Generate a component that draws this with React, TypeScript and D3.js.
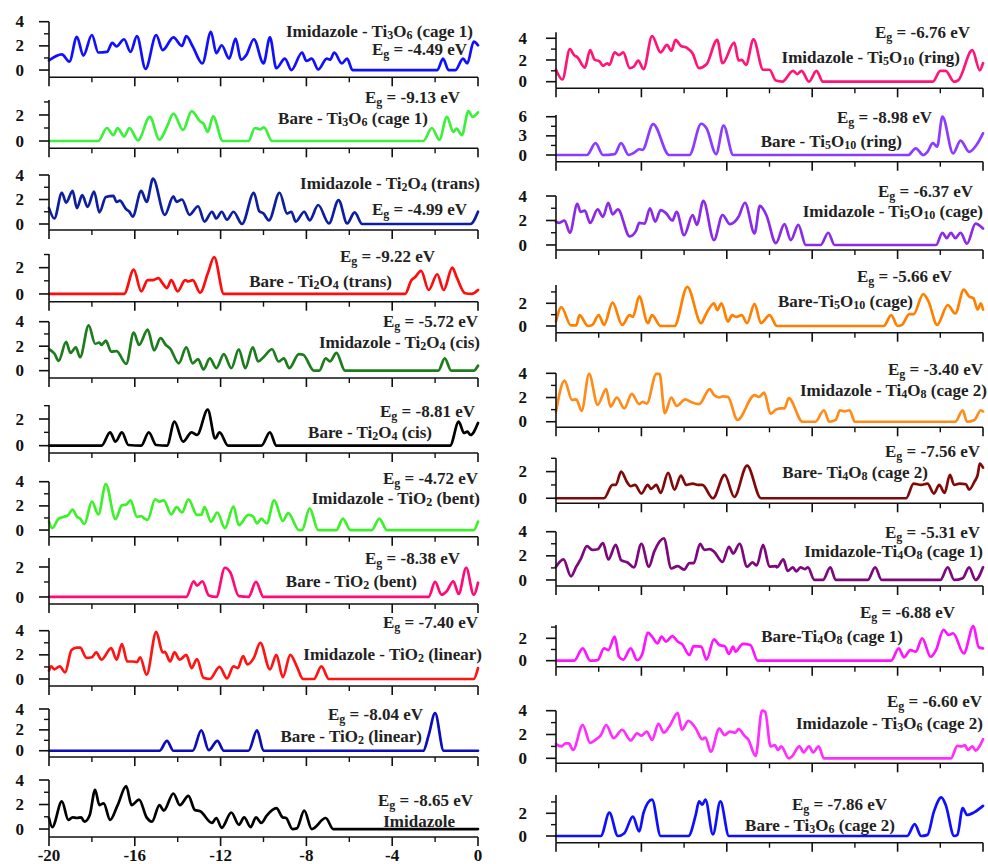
import React from "react";
import * as d3 from "d3";

type Pt = [number, number];

// energy axis (eV), shared by every panel
const energyTicks = [-20, -16, -12, -8, -4, 0];
const energyMinor = [-18, -14, -10, -6, -2];

// ---- left column: total DOS curves [energy, DOS] ----
const imTi3O6c1: Pt[] = [[-20,0.8],[-19.4,1.3],[-19.05,0.7],[-18.7,2.75],[-18.4,1.2],[-18.0,2.9],[-17.7,1.45],[-17.3,1.5],[-17.05,2.25],[-16.85,1.95],[-16.5,2.55],[-16.2,1.5],[-15.9,2.8],[-15.5,0.1],[-15.0,2.9],[-14.7,1.65],[-14.2,2.7],[-13.8,2.0],[-13.6,2.8],[-13.3,1.95],[-12.85,0.55],[-12.45,3.15],[-12.2,1.4],[-11.95,2.05],[-11.6,0.95],[-11.3,2.6],[-11.05,0.85],[-10.8,1.25],[-10.45,2.55],[-10.0,0.55],[-9.7,2.7],[-9.4,0.15],[-9.0,0.95],[-8.7,0],[-8.2,1.45],[-8.0,0.75],[-7.75,0.95],[-7.45,0.05],[-7.05,0.95],[-6.9,0.85],[-6.7,1.45],[-6.35,0.55],[-6.1,0.95],[-5.85,0],[-1.9,0],[-1.63,0.95],[-1.37,0],[-1.05,0],[-0.7,0.95],[-0.5,0.55],[-0.2,2.35],[0,2.05]];
const bareTi3O6c1: Pt[] = [[-20,0],[-17.7,0],[-17.3,1.0],[-17.0,0.45],[-16.8,1.0],[-16.5,0.35],[-16.25,1.0],[-15.85,0.05],[-15.3,1.85],[-14.85,0.1],[-14.5,1.1],[-14.2,2.1],[-13.75,0.85],[-13.35,2.3],[-12.95,1.5],[-12.8,1.35],[-12.6,0.7],[-12.35,1.9],[-11.9,0],[-10.7,0],[-10.4,1.0],[-10.15,0.9],[-9.98,1.05],[-9.6,0],[-2.55,0],[-2.15,1.0],[-1.8,0.1],[-1.45,1.85],[-1.15,0.7],[-1.0,0.95],[-0.75,0.45],[-0.45,2.3],[-0.25,1.85],[0,2.2]];
const imTi2O4trans: Pt[] = [[-20,1.3],[-19.75,0.45],[-19.4,2.55],[-19.2,1.75],[-18.9,2.7],[-18.7,1.3],[-18.45,2.35],[-18.2,1.4],[-17.9,2.65],[-17.65,0.95],[-17.35,2.2],[-17.0,2.3],[-16.85,1.8],[-16.7,1.9],[-16.4,1.2],[-16.25,1.0],[-16.1,0.6],[-15.7,2.7],[-15.45,1.8],[-15.15,3.7],[-14.6,0.75],[-14.2,2.25],[-14.05,1.8],[-13.8,2.0],[-13.45,0.75],[-13.05,1.45],[-12.75,0.2],[-12.4,1.0],[-12.2,0.45],[-11.95,1.0],[-11.7,0.35],[-11.4,1.0],[-11.0,0],[-10.45,2.55],[-10.2,1.05],[-10.0,0.85],[-9.75,0.3],[-9.25,2.55],[-8.9,0.85],[-8.7,1.0],[-8.5,0.2],[-8.1,1.0],[-7.85,0.3],[-7.45,1.55],[-6.95,0.05],[-6.5,1.95],[-6.1,0.05],[-5.75,0.95],[-5.4,0],[-0.35,0],[0,1.0]];
const bareTi2O4trans: Pt[] = [[-20,0],[-16.5,0],[-16.05,1.85],[-15.7,0.2],[-15.4,1.05],[-15.15,1.05],[-14.9,1.2],[-14.7,0.8],[-14.5,0.45],[-14.3,1.05],[-14.0,0.2],[-13.65,1.05],[-13.5,0.95],[-13.3,1.05],[-12.95,0.1],[-12.6,1.55],[-12.3,2.8],[-11.85,0],[-3.4,0],[-3.1,1.05],[-2.95,1.25],[-2.65,1.75],[-2.3,0.3],[-1.9,1.5],[-1.6,0.3],[-1.2,2.0],[-1.0,1.3],[-0.6,0.05],[-0.3,0],[0,0.3]];
const imTi2O4cis: Pt[] = [[-20,1.75],[-19.75,1.4],[-19.55,0.8],[-19.2,2.35],[-19.0,1.45],[-18.75,1.9],[-18.55,1.1],[-18.15,3.7],[-17.85,2.2],[-17.65,2.3],[-17.55,2.1],[-17.35,2.45],[-17.1,1.55],[-16.85,1.6],[-16.4,0.55],[-16.05,3.1],[-15.8,2.1],[-15.4,3.35],[-15.1,1.65],[-14.8,2.65],[-14.55,2.1],[-14.35,1.8],[-13.95,0.6],[-13.6,1.9],[-13.3,0.6],[-13.05,0.95],[-12.8,0.1],[-12.5,1.0],[-12.2,0.2],[-11.85,1.35],[-11.5,0.2],[-11.15,1.75],[-10.85,0.2],[-10.5,1.9],[-10.25,0.75],[-10.0,1.1],[-9.6,1.75],[-9.3,0.75],[-9.05,1.0],[-8.8,0.2],[-8.35,1.35],[-8.15,1.3],[-7.65,0],[-7.4,0],[-7.1,1.0],[-6.9,0.75],[-6.6,1.45],[-6.2,0],[-1.85,0],[-1.55,1.0],[-1.25,0],[-0.2,0],[0,0.4]];
const bareTi2O4cis: Pt[] = [[-20,0],[-17.55,0],[-17.15,1.0],[-16.9,0.3],[-16.6,1.0],[-16.3,0.05],[-15.7,0],[-15.35,1.0],[-15.0,0.05],[-14.5,0],[-14.15,1.8],[-13.75,0.3],[-13.35,1.0],[-13.1,0.8],[-12.6,2.7],[-12.25,0.55],[-12.05,1.0],[-11.65,0],[-10.1,0],[-9.7,1.0],[-9.4,0],[-1.3,0],[-0.9,1.8],[-0.65,0.95],[-0.5,1.05],[-0.35,0.8],[0,1.7]];
const imTiO2bent: Pt[] = [[-20,0.7],[-19.85,0.15],[-19.55,0.95],[-19.3,1.1],[-19.1,1.25],[-18.9,1.7],[-18.7,1.1],[-18.55,0.95],[-18.35,0.5],[-18.0,2.35],[-17.7,1.3],[-17.35,3.8],[-16.9,0.9],[-16.6,2.05],[-16.4,2.1],[-16.2,2.45],[-15.9,1.1],[-15.7,1.15],[-15.55,0.95],[-15.4,0.85],[-15.05,2.55],[-14.85,2.35],[-14.65,2.45],[-14.3,1.3],[-14.05,1.9],[-13.8,1.45],[-13.5,2.55],[-13.1,1.25],[-12.9,1.25],[-12.75,1.9],[-12.45,0.7],[-12.15,1.45],[-11.8,0.15],[-11.4,1.95],[-11.15,0.4],[-10.7,1.25],[-10.5,1.15],[-10.3,0.55],[-10.1,0.95],[-9.85,0.55],[-9.5,2.45],[-9.1,0.75],[-8.85,1.4],[-8.35,0],[-8.2,0],[-7.85,1.8],[-7.45,0],[-6.6,0],[-6.3,0.95],[-5.95,0],[-4.95,0],[-4.6,0.95],[-4.25,0],[-0.2,0],[0,0.7]];
const bareTiO2bent: Pt[] = [[-20,0],[-13.6,0],[-13.25,1.05],[-13.1,0.75],[-12.85,1.05],[-12.55,0.1],[-12.2,0],[-11.8,1.95],[-11.55,1.65],[-11.15,0.05],[-10.7,0],[-10.35,1.0],[-10.0,0],[-2.3,0],[-2.0,1.0],[-1.7,0.15],[-1.45,0.4],[-1.15,1.05],[-0.9,0.2],[-0.55,1.95],[-0.2,0.15],[0,0.95]];
const imTiO2linear: Pt[] = [[-20,0.7],[-19.9,1.05],[-19.75,0.8],[-19.5,1.05],[-19.25,0.55],[-18.95,2.4],[-18.7,2.6],[-18.55,2.6],[-18.25,1.75],[-18.0,1.8],[-17.8,2.2],[-17.55,1.6],[-17.1,2.55],[-16.85,1.6],[-16.6,2.9],[-16.35,1.45],[-16.1,1.45],[-15.9,1.4],[-15.75,1.8],[-15.45,0.35],[-15.0,3.9],[-14.7,2.2],[-14.6,2.25],[-14.35,1.45],[-14.15,2.2],[-13.9,1.6],[-13.6,2.0],[-13.35,0.9],[-13.1,1.65],[-12.8,0.1],[-12.5,0],[-12.05,1.0],[-11.7,0.05],[-11.4,1.05],[-11.2,0.9],[-10.95,1.9],[-10.75,1.2],[-10.45,1.75],[-10.15,3.0],[-9.7,0.8],[-9.4,2.0],[-9.1,0.15],[-8.75,2.0],[-8.45,1.05],[-8.15,0],[-7.65,0],[-7.3,1.05],[-6.95,0],[-0.2,0],[0,0.9]];
const bareTiO2linear: Pt[] = [[-20,0],[-14.85,0],[-14.5,0.95],[-14.2,0],[-13.3,0],[-12.9,1.95],[-12.55,0.05],[-12.15,0.95],[-11.85,0],[-10.7,0],[-10.3,1.95],[-10.0,0],[-2.55,0],[-2.3,1.5],[-2.0,3.6],[-1.6,0],[0,0]];
const imidazole: Pt[] = [[-20,0.9],[-19.85,0.15],[-19.4,2.25],[-19.1,0.75],[-18.9,0.95],[-18.7,0.9],[-18.5,0.95],[-18.35,0.6],[-18.1,1.15],[-17.85,3.2],[-17.65,1.95],[-17.45,2.1],[-17.15,0.75],[-16.8,1.95],[-16.4,3.5],[-16.15,1.95],[-15.8,2.4],[-15.45,0.95],[-15.2,0.6],[-14.85,1.95],[-14.65,1.5],[-14.2,2.9],[-13.9,1.95],[-13.5,2.7],[-13.2,1.55],[-12.95,1.45],[-12.4,0.5],[-12.2,0.9],[-11.95,0.1],[-11.5,1.35],[-11.15,0.35],[-10.9,0.95],[-10.6,0.15],[-10.35,0.95],[-10.1,0.5],[-9.85,1.1],[-9.4,1.7],[-9.1,0.95],[-8.95,0.9],[-8.65,0],[-8.45,0.05],[-8.1,1.5],[-7.75,0],[-7.1,0.9],[-6.75,0],[0,0]];

// ---- right column ----
const imTi5O10ring: Pt[] = [[-20,1.1],[-19.7,0.2],[-19.35,3.0],[-19.15,2.45],[-19.0,2.25],[-18.65,1.3],[-18.4,2.9],[-18.2,2.05],[-17.95,1.85],[-17.8,1.45],[-17.6,1.7],[-17.5,1.55],[-17.25,2.7],[-17.05,2.45],[-16.85,2.7],[-16.55,1.25],[-16.35,1.4],[-16.15,1.95],[-15.9,1.15],[-15.5,4.2],[-15.1,2.7],[-14.8,3.4],[-14.6,2.85],[-14.4,3.85],[-14.15,3.3],[-13.85,3.1],[-13.6,2.6],[-13.3,1.25],[-12.95,1.6],[-12.45,3.85],[-12.2,1.7],[-11.65,3.6],[-11.45,1.95],[-11.3,2.0],[-11.1,1.55],[-10.75,3.9],[-10.3,1.1],[-10.0,1.1],[-9.7,0.1],[-9.4,0],[-8.9,1.0],[-8.7,0.7],[-8.5,1.0],[-8.15,0],[-7.8,1.0],[-7.5,0],[-2.35,0],[-2.0,1.0],[-1.75,1.0],[-1.35,0],[-1.15,0.15],[-0.5,2.9],[-0.15,1.05],[0,1.7]];
const bareTi5O10ring: Pt[] = [[-20,0],[-18.55,0],[-18.15,1.85],[-17.8,0],[-17.25,0.15],[-16.95,1.85],[-16.6,0],[-16.35,0.35],[-16.1,0.9],[-15.95,0.8],[-15.45,4.85],[-14.7,0],[-13.75,0],[-13.2,4.9],[-12.95,4.2],[-12.5,0.15],[-12.15,4.6],[-11.7,0],[-3.5,0],[-3.15,1.05],[-2.8,0],[-2.6,0.5],[-2.35,1.85],[-2.15,1.3],[-1.9,6.0],[-1.4,0.25],[-1.05,2.25],[-0.65,0.5],[-0.3,1.6],[0,3.4]];
const imTi5O10cage: Pt[] = [[-20,1.9],[-19.85,1.8],[-19.6,2.0],[-19.35,1.0],[-19.0,3.35],[-18.85,2.7],[-18.65,2.8],[-18.4,1.8],[-18.05,2.9],[-17.8,2.3],[-17.55,3.45],[-17.35,2.5],[-17.1,2.9],[-16.55,0.7],[-16.25,1.15],[-16.1,1.8],[-15.85,1.75],[-15.6,3.0],[-15.35,1.9],[-15.1,2.85],[-14.85,2.6],[-14.55,2.0],[-14.35,2.7],[-14.0,0.8],[-13.6,2.45],[-13.4,1.65],[-13.1,3.6],[-12.6,0.4],[-12.2,2.45],[-11.85,1.7],[-11.45,2.3],[-11.15,3.45],[-10.7,0.95],[-10.45,3.2],[-10.15,2.45],[-9.7,0.15],[-9.3,1.7],[-9.0,0.4],[-8.65,1.65],[-8.3,0],[-7.6,0],[-7.25,1.0],[-6.95,0],[-2.2,0],[-1.9,1.0],[-1.7,0.55],[-1.5,1.0],[-1.3,0.55],[-1.05,1.0],[-0.75,0.1],[-0.35,1.75],[0,1.35]];
const bareTi5O10cage: Pt[] = [[-20,0.4],[-19.75,1.65],[-19.3,0.05],[-19.05,0.05],[-18.9,0.95],[-18.5,0],[-18.3,0.1],[-18.0,0.95],[-17.75,0.1],[-17.35,2.05],[-16.9,0.1],[-16.55,0.95],[-16.4,0.8],[-16.1,2.6],[-15.7,0.25],[-15.5,0.95],[-15.1,0],[-14.45,0],[-13.85,3.45],[-13.2,0.25],[-13.0,0.95],[-12.6,2.0],[-12.45,1.4],[-12.25,2.0],[-11.95,0.4],[-11.75,0.95],[-11.55,0.8],[-11.3,0.95],[-11.05,0.25],[-10.7,1.95],[-10.4,0.25],[-10.0,0.95],[-9.65,0],[-4.65,0],[-4.3,0.95],[-4.0,0],[-3.8,0.1],[-3.45,1.05],[-3.25,1.05],[-2.8,2.8],[-2.55,2.15],[-2.15,0.1],[-1.65,1.85],[-1.3,1.1],[-0.9,3.2],[-0.65,2.6],[-0.45,2.45],[-0.25,1.45],[-0.1,2.0],[0,1.45]];
const imTi4O8c2: Pt[] = [[-20,0.85],[-19.6,3.4],[-19.25,1.8],[-19.05,1.85],[-18.8,0.9],[-18.45,3.95],[-18.05,1.4],[-17.65,2.7],[-17.45,1.25],[-17.15,2.0],[-16.8,1.1],[-16.45,2.3],[-16.1,1.45],[-15.95,1.65],[-15.75,1.5],[-15.3,3.95],[-15.15,3.95],[-14.9,0.7],[-14.6,2.0],[-14.35,1.3],[-13.95,1.85],[-13.7,1.65],[-13.3,1.45],[-12.8,2.7],[-12.6,2.2],[-12.35,2.0],[-12.2,2.1],[-11.95,2.05],[-11.5,0.15],[-10.7,2.2],[-10.5,2.05],[-10.25,2.4],[-9.95,0.65],[-9.7,1.0],[-9.45,1.1],[-9.3,1.1],[-9.1,1.95],[-8.45,0],[-7.85,0],[-7.45,0.95],[-7.2,0],[-6.9,0.15],[-6.7,0.95],[-6.5,0.85],[-6.25,0.95],[-6.0,0],[-1.3,0],[-0.95,0.95],[-0.75,0],[-0.4,0.15],[-0.1,0.95],[0,0.85]];
const bareTi4O8c2: Pt[] = [[-20,0],[-17.75,0],[-17.35,1.0],[-17.2,1.0],[-16.95,2.0],[-16.65,1.15],[-16.5,0.9],[-16.3,1.0],[-16.0,0.35],[-15.7,1.0],[-15.55,0.7],[-15.3,1.0],[-15.1,0.4],[-14.75,1.9],[-14.45,0.65],[-14.15,1.7],[-13.9,1.0],[-13.6,1.1],[-13.35,1.0],[-13.15,1.0],[-12.65,0],[-12.1,1.75],[-11.65,0.1],[-11.05,2.45],[-10.4,0],[-3.6,0],[-3.25,1.1],[-2.9,1.0],[-2.6,1.1],[-2.3,0.35],[-2.05,1.0],[-1.8,0.4],[-1.55,1.75],[-1.35,1.0],[-1.1,1.1],[-0.8,1.05],[-0.65,0.65],[-0.4,1.25],[-0.25,1.75],[-0.15,2.6],[0,2.3]];
const imTi4O8c1: Pt[] = [[-20,1.1],[-19.65,1.7],[-19.3,0.3],[-19.05,1.1],[-18.85,1.7],[-18.55,2.8],[-18.3,2.5],[-18.05,2.55],[-17.8,3.05],[-17.55,1.7],[-17.2,2.9],[-16.95,1.65],[-16.65,1.45],[-16.35,1.05],[-16.0,3.0],[-15.65,1.1],[-15.4,2.35],[-14.95,3.45],[-14.6,0.95],[-14.3,1.15],[-14.0,0.85],[-13.75,1.4],[-13.55,1.4],[-13.25,3.0],[-13.05,2.5],[-12.8,2.55],[-12.6,2.35],[-12.2,1.5],[-11.9,2.75],[-11.7,2.2],[-11.4,3.0],[-11.05,1.1],[-10.8,1.45],[-10.6,1.2],[-10.3,2.9],[-10.0,1.1],[-9.7,1.15],[-9.65,1.05],[-9.35,1.7],[-9.15,0.75],[-8.9,1.05],[-8.75,0.7],[-8.55,1.05],[-8.35,0.9],[-8.2,1.05],[-7.9,0],[-7.5,0],[-7.15,1.05],[-6.9,0],[-5.4,0],[-5.05,1.05],[-4.75,0],[-2.0,0],[-1.65,1.05],[-1.35,0],[-0.95,0.15],[-0.65,1.05],[-0.35,0],[0,1.05]];
const bareTi4O8c1: Pt[] = [[-20,0],[-19.15,0],[-18.75,1.1],[-18.4,0],[-18.05,0.05],[-17.75,1.1],[-17.55,0.95],[-17.25,2.15],[-17.05,0.35],[-16.85,0.1],[-16.5,1.1],[-16.2,0.05],[-15.95,0.65],[-15.7,2.5],[-15.5,2.15],[-15.25,1.55],[-15.05,2.15],[-14.85,1.7],[-14.55,2.2],[-14.3,1.7],[-14.1,1.5],[-13.75,0.5],[-13.55,1.3],[-13.2,1.25],[-12.95,0.1],[-12.6,1.9],[-12.35,1.4],[-12.1,1.3],[-11.9,0.6],[-11.7,1.25],[-11.6,0.8],[-11.25,1.5],[-10.9,1.4],[-10.55,0],[-4.3,0],[-3.95,1.1],[-3.7,0.3],[-3.4,0.95],[-3.15,0.8],[-2.85,2.0],[-2.45,0.35],[-2.2,0.95],[-1.85,2.75],[-1.6,2.3],[-1.4,2.45],[-0.9,0.65],[-0.45,3.1],[-0.2,1.2],[0,1.1]];
const imTi3O6c2: Pt[] = [[-20,1.2],[-19.75,1.0],[-19.55,1.25],[-19.4,1.25],[-19.2,0.7],[-18.75,2.8],[-18.4,1.3],[-18.15,1.55],[-17.9,1.95],[-17.65,2.8],[-17.3,1.7],[-16.9,2.4],[-16.5,1.5],[-16.2,2.1],[-16.0,1.9],[-15.75,2.25],[-15.5,1.55],[-15.2,2.9],[-14.95,2.15],[-14.7,2.65],[-14.3,3.8],[-14.1,2.4],[-13.8,3.15],[-13.45,2.5],[-13.15,1.6],[-13.0,1.75],[-12.75,0.55],[-12.35,2.5],[-12.1,1.95],[-11.85,2.25],[-11.6,2.15],[-11.45,2.45],[-11.15,1.85],[-11.0,1.6],[-10.65,0.2],[-10.35,4.0],[-10.2,3.9],[-9.95,1.0],[-9.75,1.1],[-9.6,0.7],[-9.45,1.0],[-9.1,0],[-8.95,0.15],[-8.6,1.0],[-8.4,0.5],[-8.15,1.0],[-7.95,0.5],[-7.7,1.0],[-7.45,0],[-1.5,0],[-1.2,1.05],[-1.0,1.0],[-0.85,1.1],[-0.7,0.7],[-0.5,1.0],[-0.35,0.65],[-0.15,1.05],[0,1.6]];
const bareTi3O6c2: Pt[] = [[-20,0],[-17.9,0],[-17.5,2.05],[-17.1,0],[-16.8,0.25],[-16.4,1.7],[-16.1,0.4],[-15.9,2.05],[-15.5,3.2],[-15.1,0],[-13.8,0],[-13.45,1.9],[-13.3,3.05],[-13.15,2.75],[-13.0,3.2],[-12.65,0.15],[-12.3,3.05],[-11.9,0],[-3.55,0],[-3.2,1.05],[-2.9,0],[-2.6,0.1],[-2.3,2.15],[-1.95,3.4],[-1.75,2.75],[-1.35,0],[-1.2,0.1],[-0.95,2.45],[-0.75,1.85],[-0.4,2.1],[0,2.65]];

const FONT = "'Liberation Serif', 'DejaVu Serif', serif";
const LEFT_X: [number, number] = [49, 478];
const RIGHT_X: [number, number] = [556, 983];

const leftPanels = [
  { data: imTi3O6c1, color: "#1010ff", yDomain: [-0.6, 4], yRange: [77.3, 21.7], yTicks: [0, 2, 4], yMinor: [1, 3], eg: "-4.49", pre: "Imidazole - ", formula: "Ti3O6", tail: " (cage 1)", egAt: [467, 55], nameAt: [473, 37] },
  { data: bareTi3O6c1, color: "#3cf03c", yDomain: [-0.56, 3.15], yRange: [148.3, 100], yTicks: [0, 2], yMinor: [1, 3], eg: "-9.13", pre: "Bare - ", formula: "Ti3O6", tail: " (cage 1)", egAt: [460, 103], nameAt: [428, 124] },
  { data: imTi2O4trans, color: "#0d1f9e", yDomain: [-0.49, 4], yRange: [230, 175], yTicks: [0, 2, 4], yMinor: [1, 3], eg: "-4.99", pre: "Imidazole - ", formula: "Ti2O4", tail: " (trans)", egAt: [467, 215], nameAt: [480, 189] },
  { data: bareTi2O4trans, color: "#ff0d0d", yDomain: [-0.59, 3.04], yRange: [301.7, 254], yTicks: [0, 2], yMinor: [1, 3], eg: "-9.22", pre: "Bare - ", formula: "Ti2O4", tail: " (trans)", egAt: [435, 262], nameAt: [392, 287] },
  { data: imTi2O4cis, color: "#1d7d1d", yDomain: [-0.6, 4], yRange: [378, 321.7], yTicks: [0, 2, 4], yMinor: [1, 3], eg: "-5.72", pre: "Imidazole - ", formula: "Ti2O4", tail: " (cis)", egAt: [478, 327], nameAt: [480, 348] },
  { data: bareTi2O4cis, color: "#000000", yDomain: [-0.55, 3.05], yRange: [453, 405], yTicks: [0, 2], yMinor: [1, 3], eg: "-8.81", pre: "Bare - ", formula: "Ti2O4", tail: " (cis)", egAt: [475, 417], nameAt: [432, 438] },
  { data: imTiO2bent, color: "#3cf02a", yDomain: [-0.55, 4], yRange: [536.7, 481.7], yTicks: [0, 2, 4], yMinor: [1, 3], eg: "-4.72", pre: "Imidazole - ", formula: "TiO2", tail: " (bent)", egAt: [478, 484], nameAt: [480, 504] },
  { data: bareTiO2bent, color: "#ff0a78", yDomain: [-0.47, 2.6], yRange: [604, 558], yTicks: [0, 2], yMinor: [1], eg: "-8.38", pre: "Bare - ", formula: "TiO2", tail: " (bent)", egAt: [460, 564], nameAt: [417, 587] },
  { data: imTiO2linear, color: "#ff1414", yDomain: [-0.58, 4], yRange: [686, 630.7], yTicks: [0, 2, 4], yMinor: [1, 3], eg: "-7.40", pre: "Imidazole - ", formula: "TiO2", tail: " (linear)", egAt: [478, 628], nameAt: [482, 660] },
  { data: bareTiO2linear, color: "#0c0cb8", yDomain: [-0.6, 4], yRange: [757, 709], yTicks: [0, 2, 4], yMinor: [1, 3], eg: "-8.04", pre: "Bare - ", formula: "TiO2", tail: " (linear)", egAt: [423, 720], nameAt: [422, 742] },
  { data: imidazole, color: "#000000", yDomain: [-0.65, 4], yRange: [837, 780], yTicks: [0, 2, 4], yMinor: [1, 3], eg: "-8.65", pre: "Imidazole", formula: "", tail: "", egAt: [473, 806], nameAt: [455, 827] },
];

const rightPanels = [
  { data: imTi5O10ring, color: "#ff1478", yDomain: [-0.61, 4.55], yRange: [88.3, 32.3], yTicks: [0, 2, 4], yMinor: [1, 3], eg: "-6.76", pre: "Imidazole - ", formula: "Ti5O10", tail: " (ring)", egAt: [970, 38], nameAt: [960, 63] },
  { data: bareTi5O10ring, color: "#8b3cff", yDomain: [-1.05, 6.27], yRange: [161.7, 115], yTicks: [0, 3, 6], yMinor: [1.5, 4.5], eg: "-8.98", pre: "Bare - ", formula: "Ti5O10", tail: " (ring)", egAt: [932, 123], nameAt: [902, 147] },
  { data: imTi5O10cage, color: "#8a2be8", yDomain: [-0.41, 4], yRange: [250, 196], yTicks: [0, 2, 4], yMinor: [1, 3], eg: "-6.37", pre: "Imidazole - ", formula: "Ti5O10", tail: " (cage)", egAt: [973, 197], nameAt: [983, 217] },
  { data: bareTi5O10cage, color: "#ff8000", yDomain: [-0.59, 3.61], yRange: [332.7, 285], yTicks: [0, 2], yMinor: [1, 3], eg: "-5.66", pre: "Bare-", formula: "Ti5O10", tail: " (cage)", egAt: [952, 282], nameAt: [913, 307] },
  { data: imTi4O8c2, color: "#ff8c1a", yDomain: [-0.46, 4], yRange: [427.3, 373.3], yTicks: [0, 2, 4], yMinor: [1, 3], eg: "-3.40", pre: "Imidazole - ", formula: "Ti4O8", tail: " (cage 2)", egAt: [983, 375], nameAt: [987, 396] },
  { data: bareTi4O8c2, color: "#800a0a", yDomain: [-0.38, 3.0], yRange: [503.3, 458.3], yTicks: [0, 2], yMinor: [1, 3], eg: "-7.56", pre: "Bare- ", formula: "Ti4O8", tail: " (cage 2)", egAt: [980, 457], nameAt: [928, 478] },
  { data: imTi4O8c1, color: "#7d087d", yDomain: [-0.5, 4], yRange: [586, 531.7], yTicks: [0, 2, 4], yMinor: [1, 3], eg: "-5.31", pre: "Imidazole-", formula: "Ti4O8", tail: " (cage 1)", egAt: [980, 538], nameAt: [983, 557] },
  { data: bareTi4O8c1, color: "#ff14ff", yDomain: [-0.54, 3.19], yRange: [666.7, 625], yTicks: [0, 2], yMinor: [1, 3], eg: "-6.88", pre: "Bare-", formula: "Ti4O8", tail: " (cage 1)", egAt: [955, 618], nameAt: [903, 642] },
  { data: imTi3O6c2, color: "#ff2eff", yDomain: [-0.42, 4], yRange: [763.3, 710.7], yTicks: [0, 2, 4], yMinor: [1, 3], eg: "-6.60", pre: "Imidazole - ", formula: "Ti3O6", tail: " (cage 2)", egAt: [982, 707], nameAt: [983, 729] },
  { data: bareTi3O6c2, color: "#0f0fff", yDomain: [-0.59, 3.61], yRange: [842.7, 795], yTicks: [0, 2], yMinor: [1, 3], eg: "-7.86", pre: "Bare - ", formula: "Ti3O6", tail: " (cage 2)", egAt: [887, 810], nameAt: [895, 831] },
];

type Seg = { t: string; sub?: boolean };

// tspans with subscripts; dy keeps track of the running baseline shift
function rich(segs: Seg[], subDy: number, subSize: number) {
  let shift = 0;
  return segs.map((s, i) => {
    const target = s.sub ? subDy : 0;
    const dy = target - shift;
    shift = target;
    return (
      <tspan key={i} dy={dy} fontSize={s.sub ? subSize : undefined}>
        {s.t}
      </tspan>
    );
  });
}

function formulaSegs(f: string): Seg[] {
  return f
    .split(/(\d+)/)
    .filter((s) => s.length)
    .map((s) => ({ t: s, sub: /^\d+$/.test(s) }));
}

function Panel({ p, xr, labelGap, showXLabels }: any) {
  const x = d3.scaleLinear().domain([-20, 0]).range(xr);
  const y = d3.scaleLinear().domain(p.yDomain).range(p.yRange);
  const line = d3
    .line<Pt>()
    .x((d) => x(d[0]))
    .y((d) => y(d[1]))
    .curve(d3.curveMonotoneX);
  const axisY = p.yRange[0];
  const topY = p.yRange[1];
  const x0 = xr[0];

  const nameSegs: Seg[] = [{ t: p.pre }, ...formulaSegs(p.formula), { t: p.tail }];
  const egSegs: Seg[] = [{ t: "E" }, { t: "g", sub: true }, { t: ` = ${p.eg} eV` }];
  const isImidazole = p.formula === "";

  return (
    <g>
      <path d={line(p.data) || ""} fill="none" stroke={p.color} strokeWidth={2.7} strokeLinejoin="round" strokeLinecap="round" />
      {/* y axis */}
      <line x1={x0} x2={x0} y1={topY} y2={axisY} stroke="#111" strokeWidth={1.6} />
      {p.yTicks.map((t: number) => (
        <g key={"yt" + t}>
          <line x1={x0 - 10} x2={x0} y1={y(t)} y2={y(t)} stroke="#111" strokeWidth={1.6} />
          <text x={x0 - labelGap} y={y(t)} dy="0.33em" textAnchor="end" fontSize={17} fontWeight="bold" fill="#111">
            {t}
          </text>
        </g>
      ))}
      {p.yMinor.map((t: number) => (
        <line key={"ym" + t} x1={x0 - 5} x2={x0} y1={y(t)} y2={y(t)} stroke="#111" strokeWidth={1.4} />
      ))}
      {/* x axis */}
      <line x1={x0} x2={xr[1]} y1={axisY} y2={axisY} stroke="#111" strokeWidth={1.6} />
      {energyTicks.map((t) => (
        <line key={"xt" + t} x1={x(t)} x2={x(t)} y1={axisY} y2={axisY + 9} stroke="#111" strokeWidth={1.6} />
      ))}
      {energyMinor.map((t) => (
        <line key={"xm" + t} x1={x(t)} x2={x(t)} y1={axisY} y2={axisY + 5} stroke="#111" strokeWidth={1.4} />
      ))}
      {showXLabels &&
        energyTicks.map((t) => (
          <text key={"xl" + t} x={x(t)} y={axisY + 24} textAnchor="middle" fontSize={17} fontWeight="bold" fill="#111">
            {t}
          </text>
        ))}
      {/* annotations */}
      <text x={p.egAt[0]} y={p.egAt[1]} textAnchor="end" fontSize={17} fontWeight="bold" fill="#222" style={{ whiteSpace: "pre" }}>
        {rich(egSegs, 3, 12)}
      </text>
      <text x={p.nameAt[0]} y={p.nameAt[1]} textAnchor="end" fontSize={17} fontWeight="bold" fill="#222" style={{ whiteSpace: "pre" }}>
        {isImidazole ? p.pre : rich(nameSegs, 1.5, 12)}
      </text>
    </g>
  );
}

export default function App() {
  return (
    <svg
      width={988}
      height={864}
      style={{ position: "absolute", left: 0, top: 0, background: "#fff", fontFamily: FONT }}
      fontFamily={FONT}
    >
      <rect width={988} height={864} fill="#fff" />
      {leftPanels.map((p, i) => (
        <Panel key={"l" + i} p={p} xr={LEFT_X} labelGap={25} showXLabels={i === leftPanels.length - 1} />
      ))}
      {rightPanels.map((p, i) => (
        <Panel key={"r" + i} p={p} xr={RIGHT_X} labelGap={29} showXLabels={false} />
      ))}
    </svg>
  );
}
